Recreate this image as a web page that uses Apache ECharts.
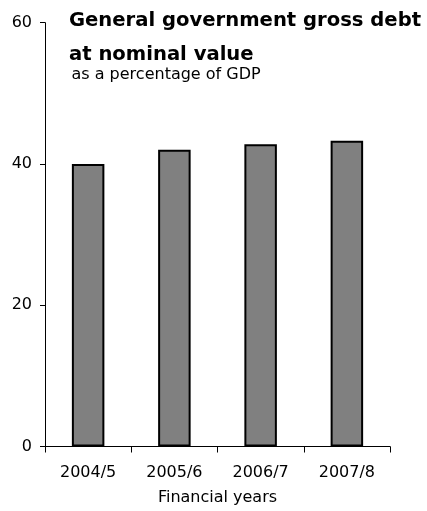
<!DOCTYPE html>
<html>
<head>
<meta charset="utf-8">
<script src="https://cdn.jsdelivr.net/npm/echarts@6/dist/echarts.min.js"></script>
<style>html,body{margin:0;padding:0;background:#fff;}#c{width:427px;height:511px;}</style>
</head>
<body>
<div id="c"></div>
<script>
const categories = ['2004/5', '2005/6', '2006/7', '2007/8'];
const debtValues = [40.0, 42.0, 42.8, 43.3];
const yTicks = [0, 20, 40, 60];

const FONT = 'DejaVu Sans';
const chart = echarts.init(document.getElementById('c'), null, {renderer: 'canvas'});
chart.setOption({
  animation: false,
  backgroundColor: '#fff',
  title: [
    {
      text: 'General government gross debt\nat nominal value',
      left: 69, top: 4, padding: 0,
      textStyle: {fontFamily: FONT, fontWeight: 'bold', fontSize: 19.6, lineHeight: 34, color: '#000'}
    },
    {
      text: 'as a percentage of GDP',
      left: 71.5, top: 64.5, padding: 0,
      textStyle: {fontFamily: FONT, fontWeight: 'normal', fontSize: 16, lineHeight: 20, color: '#000'}
    }
  ],
  grid: {left: 45, right: 37, top: 22.7, bottom: 61.7, containLabel: false},
  xAxis: {
    type: 'category',
    data: categories,
    name: 'Financial years',
    nameLocation: 'middle',
    nameGap: 43.5,
    nameTextStyle: {fontFamily: FONT, fontSize: 16, color: '#000', verticalAlign: 'top'},
    axisLine: {lineStyle: {color: '#000', width: 1}},
    axisTick: {show: true, length: 6, lineStyle: {color: '#000'}},
    axisLabel: {fontFamily: FONT, fontSize: 16, color: '#000', margin: 18.5}
  },
  yAxis: {
    type: 'value',
    min: yTicks[0], max: yTicks[yTicks.length - 1], interval: yTicks[1] - yTicks[0],
    splitLine: {show: false},
    axisLine: {show: true, lineStyle: {color: '#000', width: 1}},
    axisTick: {show: true, length: 5, lineStyle: {color: '#000'}},
    axisLabel: {fontFamily: FONT, fontSize: 16, color: '#000', margin: 13}
  },
  series: [{
    type: 'bar',
    data: debtValues,
    barWidth: 32.5,
    itemStyle: {color: '#808080', borderColor: '#000', borderWidth: 2}
  }]
});
</script>
</body>
</html>
